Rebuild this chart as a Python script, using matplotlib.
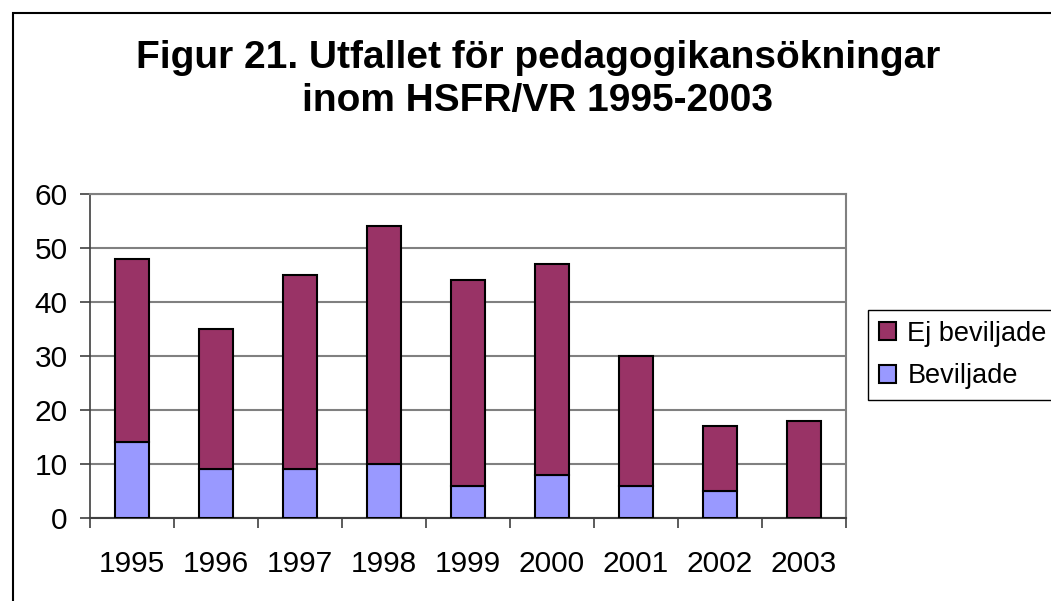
import numpy as np
import matplotlib
matplotlib.use('Agg')
import matplotlib.pyplot as plt
from matplotlib.patches import Rectangle

years = ['1995', '1996', '1997', '1998', '1999', '2000', '2001', '2002', '2003']
beviljade = [14, 9, 9, 10, 6, 8, 6, 5, 0]
ej_beviljade = [34, 26, 36, 44, 38, 39, 24, 12, 18]

plt.rcParams['font.family'] = ['Liberation Sans', 'DejaVu Sans']

fig = plt.figure(figsize=(10.51, 6.01), dpi=100)
ax = fig.add_axes([0.0856, 0.1381, 0.7193, 0.5391])

# outer chart frame, runs off the right and bottom edges
fig.patches.append(Rectangle((13 / 1051, -0.1), 1.2, 1 - 13 / 601 + 0.1,
                             transform=fig.transFigure, fill=False,
                             edgecolor='black', linewidth=1.5))

x = np.arange(len(years))
b1 = ax.bar(x, beviljade, width=0.4, color='#9999FF', edgecolor='black', linewidth=1.5, zorder=3)
b2 = ax.bar(x, ej_beviljade, width=0.4, bottom=beviljade, color='#993366',
            edgecolor='black', linewidth=1.5, zorder=3)

ax.set_xlim(-0.5, len(years) - 0.5)
ax.set_ylim(0, 60)
ax.set_yticks(range(0, 61, 10))
ax.yaxis.grid(True, color='#808080', linewidth=1.5, zorder=0)

ax.set_xticks(x)
ax.set_xticklabels(years)
ax.set_xticks(np.arange(-0.5, len(years)), minor=True)
ax.tick_params(axis='x', which='major', length=0, pad=23, labelsize=21.5)
ax.tick_params(axis='x', which='minor', length=7, width=1.2, color='#404040')
ax.tick_params(axis='y', length=7, width=1.2, color='#404040', pad=9, labelsize=21.5)

for s in ['top', 'right']:
    ax.spines[s].set_color('#808080')
    ax.spines[s].set_linewidth(1.5)
ax.spines['left'].set_color('#404040')
ax.spines['bottom'].set_color('#404040')
ax.spines['left'].set_linewidth(1.2)
ax.spines['bottom'].set_linewidth(1.5)

leg = fig.legend([b2, b1], ['Ej beviljade', 'Beviljade'], loc='upper left',
                 bbox_to_anchor=(868 / 1051, 1 - 310 / 601), fontsize=19.5,
                 fancybox=False, edgecolor='black', framealpha=1,
                 handlelength=0.65, handleheight=0.65, handletextpad=0.4,
                 borderpad=0.4, labelspacing=0.6, borderaxespad=0)
leg.get_frame().set_linewidth(1.0)

fig.text(538 / 1051, 1 - 80 / 601, 'Figur 21. Utfallet för pedagogikansökningar\ninom HSFR/VR 1995-2003',
         ha='center', va='center', fontsize=28, fontweight='bold', linespacing=1.25)

fig.savefig('out.png', dpi=100)
